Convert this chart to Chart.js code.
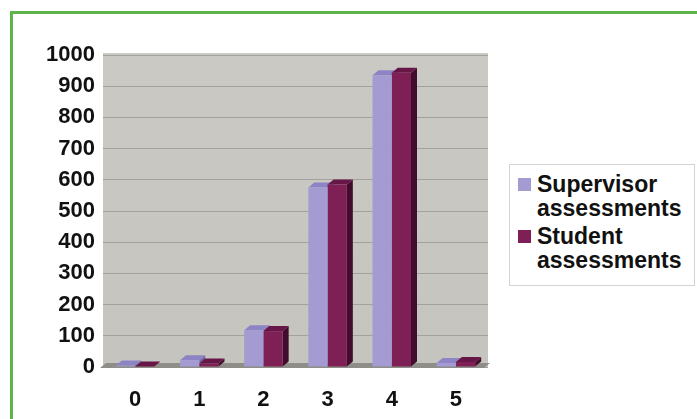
<!DOCTYPE html>
<html>
<head>
<meta charset="utf-8">
<script src="https://cdn.jsdelivr.net/npm/chart.js@4.4.0/dist/chart.umd.min.js"></script>
<style>
  html, body { margin: 0; padding: 0; background: #fff; }
  #wrap { position: relative; width: 697px; height: 419px; overflow: hidden; font-family: "Liberation Sans", Arial, sans-serif; }
  #frame { position: absolute; left: 10px; top: 11px; width: 720px; height: 440px; border: 3px solid #5db54a; box-sizing: border-box; }
  #chart { position: absolute; left: 0; top: 0; }
  #legend { position: absolute; left: 509px; top: 164px; width: 186px; height: 122px; background: #fff; border: 1px solid #d4d4d4; box-sizing: border-box; padding: 7px 0 0 8px; }
  .item { display: flex; align-items: flex-start; font-weight: bold; font-size: 23px; line-height: 24px; color: #111; margin-bottom: 4px; }
  .box { width: 13px; height: 13px; margin: 6px 6px 0 0; flex: none; }
</style>
</head>
<body>
<div id="wrap">
  <div id="frame"></div>
  <canvas id="chart" width="697" height="419"></canvas>
  <div id="legend"></div>
</div>
<script>
// chart values
const categories = ["0", "1", "2", "3", "4", "5"];
const supervisorValues = [5, 22, 118, 575, 935, 13];
const studentValues = [2, 11, 115, 585, 943, 16];
const seriesNames = [["Supervisor", "assessments"], ["Student", "assessments"]];

const colors = [
  { front: "#a39bd1", top: "#8c84c4", side: "#6f68a3" },
  { front: "#7e1f56", top: "#671747", side: "#420d2d" },
];
const depthX = 6, depthY = 5;

// fake 3d: draws the floor, bar tops and sides before the fronts
const threeD = {
  id: "threeD",
  beforeDraw(chart) {
    const { ctx, chartArea: a } = chart;
    const g = ctx.createLinearGradient(0, a.top, 0, a.bottom);
    g.addColorStop(0, "#cbc9c3");
    g.addColorStop(1, "#c6c4be");
    ctx.save();
    ctx.fillStyle = g;
    ctx.fillRect(a.left, a.top - 2, a.right - a.left, a.bottom - a.top + 2);
    ctx.restore();
  },
  beforeDatasetsDraw(chart) {
    const { ctx, chartArea: a } = chart;
    const zero = chart.scales.y.getPixelForValue(0);
    ctx.save();
    // floor
    ctx.fillStyle = "#8e8d88";
    ctx.beginPath();
    ctx.moveTo(a.left - 3, zero + 1);
    ctx.lineTo(a.right - 4, zero + 1);
    ctx.lineTo(a.right + 2, zero - 4);
    ctx.lineTo(a.left + 3, zero - 4);
    ctx.closePath();
    ctx.fill();
    chart.data.datasets.forEach((ds, di) => {
      chart.getDatasetMeta(di).data.forEach((bar) => {
        const left = bar.x - bar.width / 2, right = bar.x + bar.width / 2;
        const top = bar.y, base = bar.base;
        ctx.fillStyle = colors[di].side;
        ctx.beginPath();
        ctx.moveTo(right, top);
        ctx.lineTo(right + depthX, top - depthY);
        ctx.lineTo(right + depthX, base - depthY);
        ctx.lineTo(right, base);
        ctx.closePath();
        ctx.fill();
        ctx.fillStyle = colors[di].top;
        ctx.beginPath();
        ctx.moveTo(left, top);
        ctx.lineTo(left + depthX, top - depthY);
        ctx.lineTo(right + depthX, top - depthY);
        ctx.lineTo(right, top);
        ctx.closePath();
        ctx.fill();
      });
    });
    ctx.restore();
  },
};

new Chart(document.getElementById("chart"), {
  type: "bar",
  data: {
    labels: categories,
    datasets: [
      { label: seriesNames[0].join(" "), data: supervisorValues, backgroundColor: colors[0].front },
      { label: seriesNames[1].join(" "), data: studentValues, backgroundColor: colors[1].front },
    ],
  },
  options: {
    responsive: false,
    animation: false,
    events: [],
    layout: { padding: { left: 0, top: 55, right: 209, bottom: 0 } },
    datasets: { bar: { categoryPercentage: 0.6, barPercentage: 1 } },
    plugins: { legend: { display: false }, tooltip: { enabled: false } },
    scales: {
      x: {
        grid: { display: false },
        border: { display: false },
        ticks: { color: "#111", padding: 12, font: { family: "Liberation Sans", size: 22, weight: "bold" } },
        afterFit: (s) => { s.height = 52; },
      },
      y: {
        min: 0,
        max: 1000,
        ticks: {
          stepSize: 100,
          color: "#111",
          padding: 8,
          font: { family: "Liberation Sans", size: 22, weight: "bold" },
          callback: (v) => String(v),
        },
        grid: { color: "#a3a19b", drawTicks: false },
        border: { display: false },
        afterFit: (s) => { s.width = 103; },
      },
    },
  },
  plugins: [threeD],
});

// html legend so the names can wrap onto two lines
const legend = document.getElementById("legend");
seriesNames.forEach((lines, i) => {
  const item = document.createElement("div");
  item.className = "item";
  item.innerHTML = '<span class="box" style="background:' + colors[i].front + '"></span><span>' + lines.join("<br>") + "</span>";
  legend.appendChild(item);
});
</script>
</body>
</html>
